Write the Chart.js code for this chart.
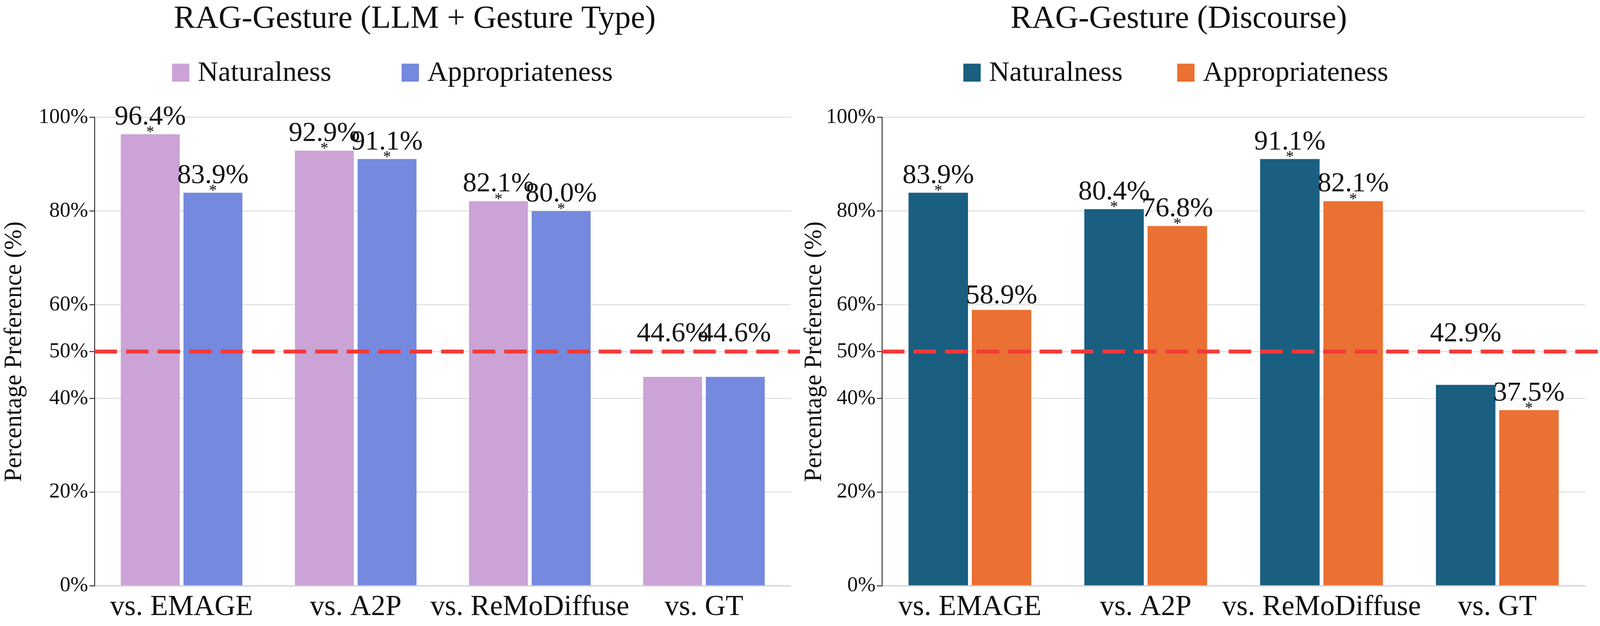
<!DOCTYPE html>
<html><head><meta charset="utf-8">
<script src="https://cdn.jsdelivr.net/npm/chart.js@4"></script>
<style>html,body{margin:0;padding:0;background:#fff;overflow:hidden}#wrap{display:flex;width:100vw;height:100vh}.c{width:50vw;height:100vh;position:relative}</style>
</head><body><div id="wrap"><div class="c"><canvas id="a"></canvas></div><div class="c"><canvas id="b"></canvas></div></div>
<script>
const categories = ["vs. EMAGE","vs. A2P","vs. ReMoDiffuse","vs. GT"];
const tickValues = [0,20,40,50,60,80,100];
const leftTitle = "RAG-Gesture (LLM + Gesture Type)";
const rightTitle = "RAG-Gesture (Discourse)";
const seriesNames = ["Naturalness","Appropriateness"];
const leftNat = [96.4,92.9,82.1,44.6];
const leftApp = [83.9,91.1,80.0,44.6];
const leftNatSig = [true,true,true,false];
const leftAppSig = [true,true,true,false];
const rightNat = [83.9,80.4,91.1,42.9];
const rightApp = [58.9,76.8,82.1,37.5];
const rightNatSig = [true,true,true,false];
const rightAppSig = [false,true,true,true];

const FONT = "'Liberation Serif', serif";
const S = window.innerWidth / 4976;

function make(id, title, nat, app, sigs, colors, axisW, padR, titleX, legendX){
  const deco = {
    id:'deco',
    afterDatasetsDraw(chart){
      const ctx = chart.ctx, y = chart.scales.y, area = chart.chartArea;
      ctx.save();
      ctx.strokeStyle = '#f23a3a'; ctx.lineWidth = 12*S; ctx.setLineDash([70*S,28*S]);
      ctx.beginPath(); ctx.moveTo(area.left, y.getPixelForValue(50)); ctx.lineTo(chart.width, y.getPixelForValue(50)); ctx.stroke();
      ctx.restore();
      ctx.save(); ctx.fillStyle = '#111'; ctx.textAlign = 'center';
      chart.data.datasets.forEach((ds, di) => {
        chart.getDatasetMeta(di).data.forEach((bar, i) => {
          const v = ds.data[i], sig = sigs[di][i];
          let top = bar.y;
          if (sig) {
            ctx.font = `${50*S}px ${FONT}`; ctx.textBaseline = 'middle';
            ctx.fillText('*', bar.x, top - 4*S);
          }
          if (!sig && v < 50) top = y.getPixelForValue(50) - 12*S;
          ctx.font = `${86*S}px ${FONT}`; ctx.textBaseline = 'alphabetic';
          ctx.fillText(v.toFixed(1) + '%', bar.x, top - (sig ? 30 : 20)*S);
        });
      });
      ctx.font = `${100*S}px ${FONT}`; ctx.textBaseline = 'middle';
      ctx.fillText(title, titleX*S, 60*S);
      ctx.textAlign = 'left'; ctx.font = `${88*S}px ${FONT}`;
      legendX.forEach((lx, k) => {
        ctx.fillStyle = colors[k]; ctx.fillRect(lx*S, 198*S, 54*S, 56*S);
        ctx.fillStyle = '#111'; ctx.fillText(seriesNames[k], (lx + 80)*S, 228*S);
      });
      ctx.restore();
    }
  };
  return new Chart(document.getElementById(id), {
    type:'bar',
    data:{labels:categories, datasets:[
      {label:seriesNames[0], data:nat, backgroundColor:colors[0], categoryPercentage:0.72, barPercentage:0.94},
      {label:seriesNames[1], data:app, backgroundColor:colors[1], categoryPercentage:0.72, barPercentage:0.94}
    ]},
    options:{
      responsive:true, maintainAspectRatio:false, animation:false,
      layout:{padding:{top:365*S, right:padR*S, bottom:0, left:0}},
      plugins:{legend:{display:false}, title:{display:false}, tooltip:{enabled:false}},
      scales:{
        x:{grid:{display:false}, border:{color:'#ccc', width:3*S},
           afterFit(s){ s.height = 125*S; },
           ticks:{font:{family:FONT, size:90*S}, color:'#111', padding:4*S, maxRotation:0, minRotation:0, autoSkip:false}},
        y:{min:0, max:100,
           afterBuildTicks(s){ s.ticks = tickValues.map(v => ({value:v})); },
           afterFit(s){ s.width = axisW*S; },
           grid:{color:'#ddd', lineWidth:3*S, tickLength:16*S, tickColor:'#333'},
           border:{color:'#333', width:3*S},
           title:{display:true, text:'Percentage Preference (%)', font:{family:FONT, size:76*S}, color:'#111', padding:0},
           ticks:{font:{family:FONT, size:66*S}, color:'#111', padding:4*S, callback:v => v + '%'}}
      }
    },
    plugins:[deco]
  });
}
make('a', leftTitle, leftNat, leftApp, [leftNatSig, leftAppSig], ['#cba3d6','#7589de'], 294, 28, 1290, [535, 1249]);
make('b', rightTitle, rightNat, rightApp, [rightNatSig, rightAppSig], ['#1a5f80','#eb7033'], 255, 46, 1178, [508, 1173]);
</script></body></html>
